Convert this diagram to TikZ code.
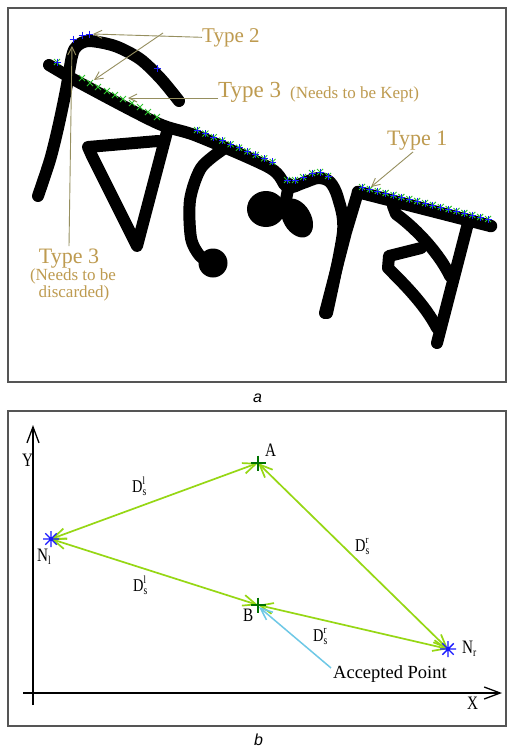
\documentclass[tikz,border=0pt]{standalone}
\usepackage{fontspec}
\setmainfont{Liberation Serif}
\newfontfamily\narrowser[FakeStretch=0.8]{Liberation Serif}
\newfontfamily\capsans{Liberation Sans}
\usetikzlibrary{arrows.meta}
\definecolor{leadc}{RGB}{150,143,95}
\definecolor{labc}{RGB}{190,155,80}
\definecolor{mblue}{RGB}{25,25,255}
\definecolor{mgreen}{RGB}{45,195,45}
\definecolor{arrc}{RGB}{150,215,20}
\definecolor{cyanc}{RGB}{110,200,230}
\definecolor{dgreen}{RGB}{0,115,0}
\definecolor{framec}{RGB}{85,85,85}
\begin{document}
\begin{tikzpicture}[x=1pt,y=-1pt,
  ink/.style={line width=12pt,line cap=round,line join=round},
  lead/.style={draw=leadc,line width=0.9pt,-{Straight Barb[length=8pt,width=8pt]}},
  dbl/.style={draw=arrc,line width=1.7pt,{Straight Barb[length=13pt,width=11pt]}-{Straight Barb[length=13pt,width=11pt]}},
  axline/.style={draw=black,line width=1.3pt,-{Straight Barb[length=16pt,width=12pt]}},
  frm/.style={draw=framec,line width=1.5pt},
  lab/.style={text=labc,inner sep=0pt},
  blab/.style={inner sep=0pt,font=\narrowser\fontsize{19}{19}\selectfont},
  dlab/.style={inner sep=0pt,font=\narrowser\fontsize{18}{18}\selectfont},
  pics/pm/.style={code={\draw[line width=0.9pt] (-3.5,0)--(3.5,0) (0,-3.5)--(0,3.5);}},
  pics/xm/.style={code={\draw[line width=0.9pt] (-3,-3)--(3,3) (-3,3)--(3,-3);}},
  pics/bigplus/.style={code={\draw[line width=1.8pt] (-7.5,0)--(7.5,0) (0,-7.5)--(0,7.5);}},
  pics/bigstar/.style={code={\draw[line width=1.4pt] (-8,0)--(8,0) (0,-8)--(0,8) (-5.7,-5.7)--(5.7,5.7) (-5.7,5.7)--(5.7,-5.7);}},
]
\useasboundingbox (0,0) rectangle (512,747);
\fill[white] (0,0) rectangle (512,747);

% ---------- panel a ----------
\draw[frm] (8,8) rectangle (506,382);

% handwritten word
\draw[ink] plot[smooth] coordinates {(49,65) (82,84) (157,123) (197,136) (270,168) (287,187) (303,183) (318,178) (330,182) (338,198) (343,232) (327,313)};
\draw[ink] (325,313) -- (346,232) -- (358,192);
\draw[ink,line width=12.5pt] (358,192) -- (491,226);
\draw[ink] plot[smooth] coordinates {(38,196) (50,160) (58,128) (66,90) (72,56) (77,46) (89,41) (115,46) (140,59) (161,79) (179,101)};
\draw[ink] (158,141) -- (88,147) -- (92,156) -- (137,246) -- (168,128);
\draw[ink] plot[smooth] coordinates {(222,150) (201,168) (190,200) (191,238) (200,256) (212,263)};
\fill (213,263) circle (14.5);
\fill (266,209) ellipse [x radius=19, y radius=18];
\fill[rotate around={30:(297,218)}] (297,218) ellipse [x radius=14, y radius=21];
\draw[ink] (289,184) -- (285,205);
\draw[ink] (467,227) -- (437,343);
\draw[ink] (393,206) -- (396,214) .. controls (418,230) and (440,255) .. (450,276);
\draw[ink] (421,248) -- (389,256) -- (388,268) .. controls (405,285) and (425,305) .. (437,328);

% markers
\foreach \p in {(73,39),(82,35),(89,34),(157,68)} \pic[mblue] at \p {pm};
\pic[mgreen] at (57,62) {xm}; \pic[mblue] at (57,62) {pm};
\foreach \p in {(82,78),(90,83),(98,87),(107,91),(115,95),(123,99),(132,103),(140,107),(148,112),(157,117)} \pic[mgreen] at \p {xm};
\foreach \i in {0,...,9} {\pic[mgreen] at ({197+8.4*\i},{130+3.55*\i}) {xm}; \pic[mblue] at ({197+8.4*\i},{130+3.55*\i}) {pm};}
\foreach \p in {(287,180),(295,180),(303,177),(312,173),(320,172),(328,176)} {\pic[mgreen] at \p {xm}; \pic[mblue] at \p {pm};}
\foreach \i in {0,...,16} {\pic[mgreen] at ({362+7.875*\i},{187+2*\i}) {xm}; \pic[mblue] at ({362+7.875*\i},{187+2*\i}) {pm};}

% labels and leaders
\node[lab,anchor=base west,font=\fontsize{21}{21}\selectfont] (t2) at (202,42) {Type 2};
\node[lab,anchor=base west,font=\fontsize{23}{23}\selectfont] (t3k) at (218,97) {Type 3};
\node[lab,anchor=base west,font=\fontsize{17}{17}\selectfont] (t3kn) at (290,98) {(Needs to be Kept)};
\node[lab,anchor=base west,font=\fontsize{22}{22}\selectfont] (t1) at (387,145) {Type 1};
\node[lab,anchor=base,font=\fontsize{22}{22}\selectfont] (t3d) at (69,263) {Type 3};
\node[lab,anchor=base,font=\fontsize{17}{17}\selectfont] (t3dn) at (73,280) {(Needs to be};
\node[lab,anchor=base,font=\fontsize{17}{17}\selectfont] (t3dd) at (74,297) {discarded)};
\coordinate (t2a) at (93,34);
\coordinate (t2b) at (94,80);
\coordinate (t2j) at (163,33);
\coordinate (t3a) at (128,98);
\coordinate (t1a) at (371,187);
\coordinate (t3da) at (72,46);
\draw[lead] (t2.west) -- (t2a);
\draw[lead] (t2j) -- (t2b);
\draw[lead] (t3k.west |- 0,98) -- (t3a);
\draw[lead] ([xshift=26pt,yshift=-2pt]t1.south west) -- (t1a);
\draw[lead] ([yshift=2pt]t3d.north) -- (t3da);

\node[anchor=base west,inner sep=0pt,font=\capsans\itshape\fontsize{16}{16}\selectfont] (la) at (253,402) {a};

% ---------- panel b ----------
\draw[frm] (8,411) rectangle (506,726);
\coordinate (yb) at (33,705);
\coordinate (yt) at (33,425);
\coordinate (xl) at (23,693);
\coordinate (xr) at (502,693);
\draw[axline] (yb) -- (yt);
\draw[axline] (xl) -- (xr);
\node[blab,anchor=base west] (ly) at (22,466) {Y};
\node[blab,anchor=base west] (lx) at (467,709) {X};

\coordinate (Nl) at (51,539);
\coordinate (A) at (258,463);
\coordinate (B) at (258,605);
\coordinate (Nr) at (448,649);

\draw[dbl] (Nl) -- (A);
\draw[dbl] (Nl) -- (B);
\draw[dbl] (A) -- (Nr);
\draw[dbl] (B) -- (Nr);

\node[anchor=base west,inner sep=0pt,font=\fontsize{18.5}{18.5}\selectfont] (acc) at (333,678) {Accepted Point};
\draw[draw=cyanc,line width=1.5pt,-{Straight Barb[length=12pt,width=10pt]}] ([xshift=-2pt,yshift=-3pt]acc.north west) -- ([shift={(1,2)}]B);

\pic[dgreen] at (A) {bigplus};
\pic[dgreen] at (B) {bigplus};
\pic[mblue] at (Nl) {bigstar};
\pic[mblue] at (Nr) {bigstar};

\node[blab,anchor=base west] (lA) at (265,456) {A};
\node[blab,anchor=base west] (lB) at (243,621) {B};
\node[blab,anchor=base west] (lNl) at (37,561) {N\raisebox{-3pt}{\fontsize{12}{12}\selectfont l}};
\node[blab,anchor=base west] (lNr) at (462,653) {N\raisebox{-3pt}{\fontsize{12}{12}\selectfont r}};

\node[dlab,anchor=base west] (d1) at (132,492) {D\rlap{\raisebox{8pt}{\fontsize{11}{11}\selectfont l}}\raisebox{-3pt}{\fontsize{12}{12}\selectfont s}};
\node[dlab,anchor=base west] (d2) at (133,591) {D\rlap{\raisebox{8pt}{\fontsize{11}{11}\selectfont l}}\raisebox{-3pt}{\fontsize{12}{12}\selectfont s}};
\node[dlab,anchor=base west] (d3) at (355,551) {D\rlap{\raisebox{8pt}{\fontsize{11}{11}\selectfont r}}\raisebox{-3pt}{\fontsize{12}{12}\selectfont s}};
\node[dlab,anchor=base west] (d4) at (313,641) {D\rlap{\raisebox{8pt}{\fontsize{11}{11}\selectfont r}}\raisebox{-3pt}{\fontsize{12}{12}\selectfont s}};

\node[anchor=base west,inner sep=0pt,font=\capsans\itshape\fontsize{16}{16}\selectfont] (lb) at (254,745) {b};
\end{tikzpicture}
\end{document}
